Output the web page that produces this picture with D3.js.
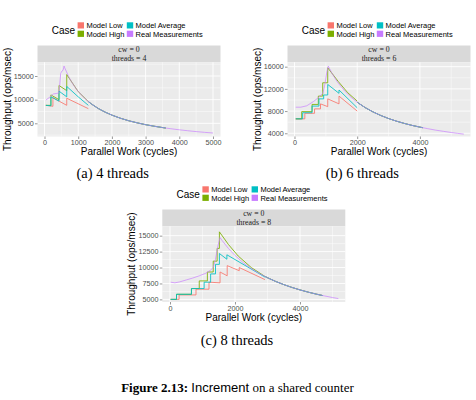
<!DOCTYPE html>
<html><head><meta charset="utf-8">
<script src="https://cdn.jsdelivr.net/npm/d3@7"></script>
<style>body{margin:0;background:#fff}</style>
</head><body><svg id="c" width="476" height="400"></svg>
<script>
const caseLabels = ["Model Low","Model High","Model Average","Real Measurements"];
const caseColors = ["#F8766D","#7CAE00","#00BFC4","#C77CFF"];
const captions = ["(a) 4 threads","(b) 6 threads","(c) 8 threads"];

// ---- (a) 4 threads ----
const realA = [[40,9900],[150,10500],[260,11200],[350,11300],[420,11400],[450,13000],[480,15500],[510,16000],[550,16200],[580,17100],[600,16740],[700,15130],[800,13800],[900,12690],[1000,11750],[1200,10220],[1400,9050],[1600,8110],[1800,7360],[2000,6730],[2250,6080],[2500,5540],[2750,5100],[3000,4710],[3250,4390],[3500,4100],[3750,3850],[4000,3630],[4250,3430],[4500,3250],[4750,3090],[5000,2950]];
const lowA  = [[40,8800],[250,8600],[250,10400],[660,8800],[660,10300],[1300,8100]];
const highA = [[40,8800],[190,8800],[190,11000],[430,10000],[430,13000],[660,11900],[660,15300],[1000,11700],[1300,9600]];
const avgA  = [[40,8800],[190,8700],[190,10600],[430,9700],[430,11800],[660,10600],[660,12800],[1000,10600],[1300,8800]];
const commonA = [[1300,9600],[1400,9050],[1600,8110],[1800,7360],[2000,6730],[2250,6080],[2500,5540],[2750,5100],[3000,4710],[3250,4390],[3500,4100],[3600,4000]];

// ---- (b) 6 threads ----
const realB = [[40,8700],[200,8700],[390,8950],[600,9700],[760,10400],[900,11200],[940,12000],[975,13000],[1030,15000],[1078,16100],[1200,14770],[1300,13840],[1400,13010],[1600,11630],[1800,10510],[2000,9590],[2250,8640],[2500,7860],[2750,7210],[3000,6660],[3250,6190],[3500,5780],[3750,5420],[4000,5110],[4250,4830],[4500,4570],[4750,4350],[5000,4140],[5200,3990],[5400,3850]];
const lowB  = [[40,6600],[330,6600],[330,7600],[640,7600],[640,8400],[830,8400],[830,9300],[1060,8800],[1060,10200],[1420,9300],[1420,10700],[2000,8000]];
const highB = [[40,6600],[230,6600],[230,7900],[560,7900],[560,9200],[760,9200],[760,10700],[900,10700],[900,13100],[1060,13100],[1060,15800],[1400,13300],[1700,11300],[2000,9800]];
const avgB  = [[40,6600],[260,6600],[260,7700],[560,7700],[560,8900],[780,8900],[780,10200],[930,10200],[930,10900],[1060,10900],[1060,12800],[1420,11200],[1420,11800],[2000,8600]];
const commonB = [[2000,9590],[2250,8640],[2500,7860],[2750,7210],[3000,6660],[3250,6190],[3500,5780],[3750,5420],[4000,5110],[4100,5000]];

// ---- (c) 8 threads ----
const realC = [[20,7700],[150,7600],[300,7750],[500,8050],[700,8350],[900,8700],[1100,9100],[1250,9600],[1330,10000],[1400,11300],[1470,13300],[1540,14700],[1600,14260],[1800,12970],[2000,11890],[2250,10770],[2500,9840],[2750,9060],[3000,8400],[3250,7820],[3500,7320],[3750,6880],[4000,6490],[4250,6140],[4500,5830],[4750,5550],[5000,5290],[5180,5130]];
const lowC  = [[20,5000],[280,5000],[280,5700],[800,5700],[800,6600],[1200,6600],[1200,7700],[1540,7600],[1540,9300],[1760,8700],[1760,10300],[2130,9500],[2130,10000],[2923,8100]];
const highC = [[20,5000],[200,5000],[200,5800],[660,5800],[660,6700],[900,6700],[900,7900],[1150,7900],[1150,9300],[1330,9300],[1330,11000],[1450,11000],[1450,13000],[1520,13000],[1520,15600],[1800,13600],[2100,11800],[2500,10000],[2923,8600]];
const avgC  = [[20,5000],[200,5000],[200,5800],[660,5800],[660,6700],[1050,6700],[1050,7700],[1250,7700],[1250,9000],[1400,9000],[1400,10500],[1520,10500],[1520,12200],[1750,11300],[1750,12000],[2923,8500]];
const commonC = [[2923,8600],[3000,8400],[3250,7820],[3500,7320],[3750,6880],[4000,6490],[4250,6140],[4500,5830],[4700,5600]];

// tick values
const xMajorA = [0,1000,2000,3000,4000,5000], xMinorA = [500,1500,2500,3500,4500];
const yMajorA = [5000,10000,15000], yMinorA = [2500,7500,12500,17500];
const xMajorB = [0,2000,4000], xMinorB = [1000,3000,5000];
const yMajorB = [4000,8000,12000,16000], yMinorB = [6000,10000,14000];
const xMajorC = [0,2000,4000], xMinorC = [1000,3000,5000];
const yMajorC = [5000,7500,10000,12500,15000], yMinorC = [6250,8750,11250,13750];

const panels = [
  {ox:0, oy:0, bottom:136.5, threads:4, xDom:[-208,5223], yDom:[2210,17900],
   xMajor:xMajorA, xMinor:xMinorA, yMajor:yMajorA, yMinor:yMinorA,
   models:[lowA,highA,avgA], common:commonA, real:realA},
  {ox:250, oy:0, bottom:136.5, threads:6, xDom:[-223,5614], yDom:[3420,16790],
   xMajor:xMajorB, xMinor:xMinorB, yMajor:yMajorB, yMinor:yMinorB,
   models:[lowB,highB,avgB], common:commonB, real:realB},
  {ox:124.8, oy:164, bottom:138, threads:8, xDom:[-237,5394], yDom:[4590,16470],
   xMajor:xMajorC, xMinor:xMinorC, yMajor:yMajorC, yMinor:yMinorC,
   models:[lowC,highC,avgC], common:commonC, real:realC}
];

const SANS = "'Liberation Sans', Arial, Helvetica, sans-serif";
const SERIF = "'Liberation Serif', 'Times New Roman', serif";
const svg = d3.select('#c');

panels.forEach((p, i) => {
  const g = svg.append('g').attr('transform', `translate(${p.ox},${p.oy})`);
  const L = 37.5, R = 220.5, T = 62.3, B = p.bottom, ST = 45.5;
  const x = d3.scaleLinear().domain(p.xDom).range([L, R]);
  const y = d3.scaleLinear().domain(p.yDom).range([B, T]);

  // legend
  g.append('text').attr('x', 51.7).attr('y', 34.3).attr('font-family', SANS)
    .attr('font-size', 10).attr('fill', '#000').text('Case');
  caseLabels.forEach((lab, k) => {
    const col = Math.floor(k / 2), row = k % 2;
    const kx = 77.6 + col * 49.2, ky = 22.3 + row * 8.4;
    g.append('rect').attr('x', kx).attr('y', ky).attr('width', 6.4).attr('height', 6.2)
      .attr('fill', caseColors[k]);
    g.append('text').attr('x', kx + 8.8).attr('y', ky + 5.9).attr('font-family', SANS)
      .attr('font-size', 7.5).attr('fill', '#000').text(lab);
  });

  // strip
  g.append('rect').attr('x', L).attr('y', ST).attr('width', R - L).attr('height', T - ST).attr('fill', '#D9D9D9');
  g.append('text').attr('x', (L + R) / 2).attr('y', ST + 6.5).attr('text-anchor', 'middle')
    .attr('font-family', SERIF).attr('font-size', 7.8).attr('fill', '#1a1a1a').text('cw = 0');
  g.append('text').attr('x', (L + R) / 2).attr('y', ST + 15.0).attr('text-anchor', 'middle')
    .attr('font-family', SERIF).attr('font-size', 7.8).attr('fill', '#1a1a1a').text('threads = ' + p.threads);

  // panel
  g.append('rect').attr('x', L).attr('y', T).attr('width', R - L).attr('height', B - T).attr('fill', '#EBEBEB');
  const grid = g.append('g');
  p.xMinor.forEach(v => grid.append('line').attr('x1', x(v)).attr('x2', x(v)).attr('y1', T).attr('y2', B).attr('stroke', '#fff').attr('stroke-width', 0.45));
  p.yMinor.filter(v => v > p.yDom[0] && v < p.yDom[1]).forEach(v => grid.append('line').attr('y1', y(v)).attr('y2', y(v)).attr('x1', L).attr('x2', R).attr('stroke', '#fff').attr('stroke-width', 0.45));
  p.xMajor.forEach(v => grid.append('line').attr('x1', x(v)).attr('x2', x(v)).attr('y1', T).attr('y2', B).attr('stroke', '#fff').attr('stroke-width', 0.9));
  p.yMajor.forEach(v => grid.append('line').attr('y1', y(v)).attr('y2', y(v)).attr('x1', L).attr('x2', R).attr('stroke', '#fff').attr('stroke-width', 0.9));

  const clipId = 'clip' + i;
  g.append('clipPath').attr('id', clipId).append('rect').attr('x', L).attr('y', T).attr('width', R - L).attr('height', B - T);
  const lines = g.append('g').attr('clip-path', `url(#${clipId})`);
  const lineGen = d3.line().x(d => x(d[0])).y(d => y(d[1]));
  p.models.forEach((m, k) => {
    lines.append('path').attr('d', lineGen(m)).attr('fill', 'none').attr('stroke', caseColors[k]).attr('stroke-width', 0.85);
  });
  p.models.forEach((m, k) => {
    lines.append('path').attr('d', lineGen(p.common)).attr('fill', 'none').attr('stroke', caseColors[k]).attr('stroke-width', 0.85);
  });
  lines.append('path').attr('d', lineGen(p.real)).attr('fill', 'none').attr('stroke', caseColors[3])
    .attr('stroke-width', 0.95).attr('stroke-opacity', 0.7);

  // axes
  const ax = g.append('g').attr('transform', `translate(0,${B})`)
    .call(d3.axisBottom(x).tickValues(p.xMajor).tickFormat(d3.format('d')).tickSize(2.5).tickPadding(1.2));
  const ay = g.append('g').attr('transform', `translate(${L},0)`)
    .call(d3.axisLeft(y).tickValues(p.yMajor).tickFormat(d3.format('d')).tickSize(2.5).tickPadding(1.2));
  [ax, ay].forEach(a => {
    a.select('.domain').remove();
    a.selectAll('line').attr('stroke', '#333').attr('stroke-width', 0.5);
    a.selectAll('text').attr('font-family', SANS).attr('font-size', 7.2).attr('fill', '#4D4D4D');
  });

  // axis titles
  g.append('text').attr('x', (L + R) / 2).attr('y', B + 18.8).attr('text-anchor', 'middle')
    .attr('font-family', SANS).attr('font-size', 10).attr('fill', '#000').text('Parallel Work (cycles)');
  g.append('text').attr('transform', `translate(10.5,${(T + B) / 2}) rotate(-90)`).attr('text-anchor', 'middle')
    .attr('font-family', SANS).attr('font-size', 10).attr('fill', '#000').text('Throughput (ops/msec)');
});

// subfigure captions
const capPos = [[112.7, 178.3], [362.3, 178.3], [237, 345]];
captions.forEach((c, i) => {
  svg.append('text').attr('x', capPos[i][0]).attr('y', capPos[i][1]).attr('text-anchor', 'middle')
    .attr('font-family', SERIF).attr('font-size', 14.5).attr('fill', '#000').text(c);
});

// figure caption
const fc = svg.append('text').attr('x', 237.5).attr('y', 391.8).attr('text-anchor', 'middle').attr('font-size', 13).attr('fill', '#000');
fc.append('tspan').attr('font-family', SERIF).attr('font-weight', 'bold').text('Figure 2.13: ');
fc.append('tspan').attr('font-family', SANS).text('Increment');
fc.append('tspan').attr('font-family', SERIF).text(' on a shared counter');
</script>
</body></html>
